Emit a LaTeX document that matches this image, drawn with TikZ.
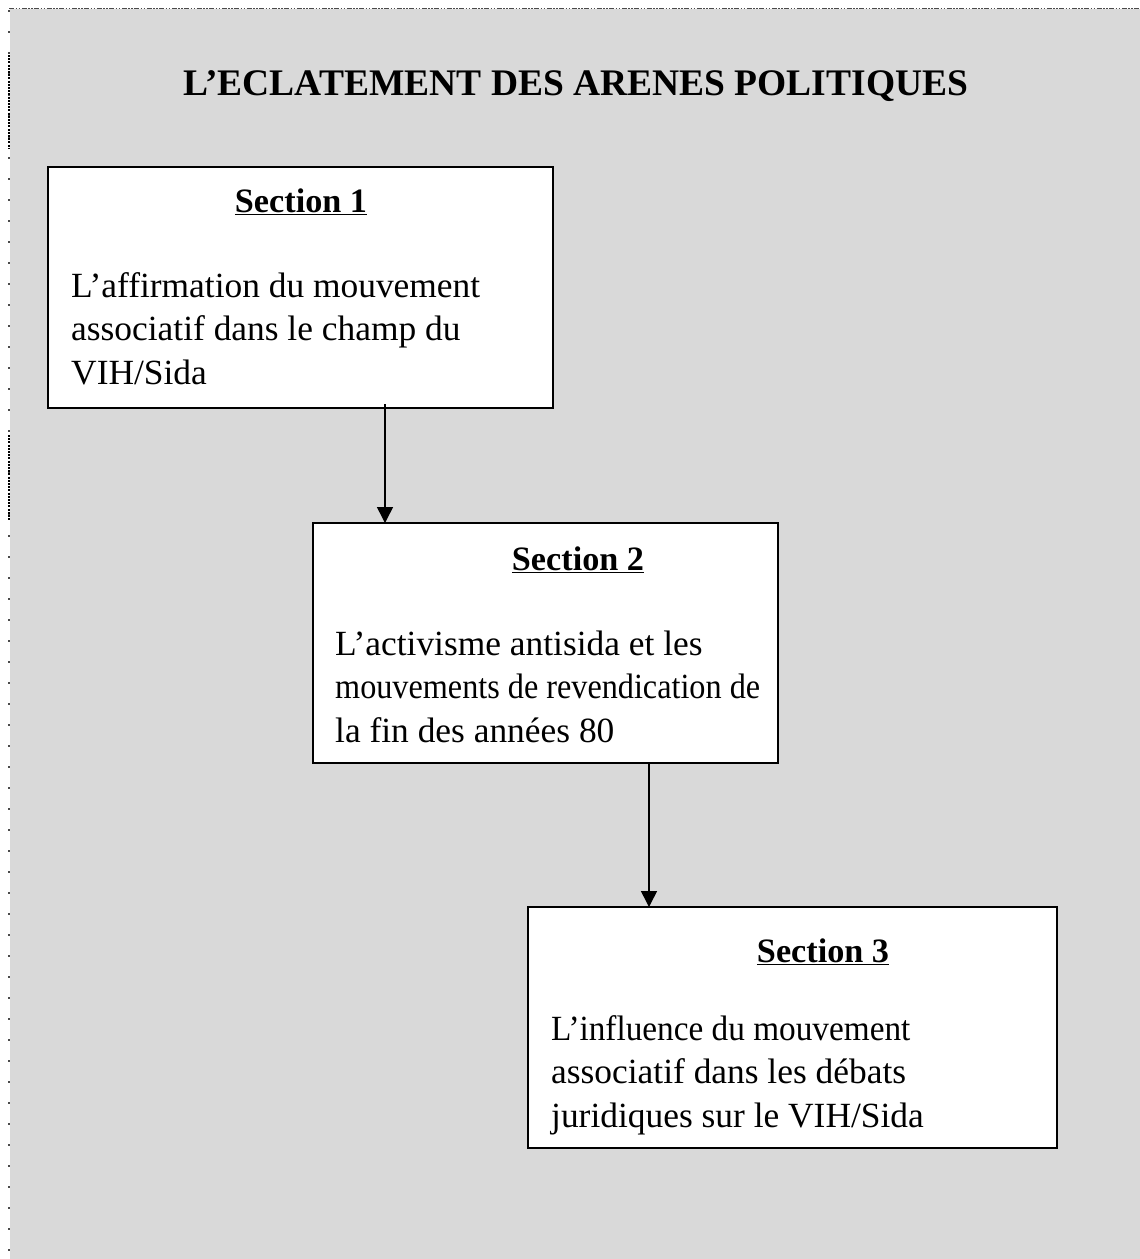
\documentclass[tikz,border=0pt]{standalone}
\usepackage{fontspec}
\setmainfont{Liberation Serif}
\usetikzlibrary{arrows.meta}
\definecolor{bggray}{HTML}{D9D9D9}
\definecolor{rimgray}{HTML}{4A4A4A}
\begin{document}
\begin{tikzpicture}[x=1pt,y=-1pt,
  box/.style={draw=black, line width=1.5pt, fill=white, inner sep=0pt, outer sep=0pt},
  head/.style={anchor=base, inner sep=0pt, font=\fontsize{34.2}{40}\selectfont\bfseries},
  txt/.style={anchor=base west, inner sep=0pt, font=\fontsize{35.4}{44}\selectfont},
  ttl/.style={anchor=base, inner sep=0pt, font=\fontsize{37.5}{44}\selectfont\bfseries},
  arr/.style={line width=1.5pt, -{Triangle[length=16pt,width=16pt]}},
  rimtop/.style={draw=rimgray, line width=1.2pt, dash pattern=on 5pt off 1.5pt on 1.5pt off 1.5pt on 1.5pt off 1.5pt},
  rimleft/.style={draw=rimgray, line width=1.8pt, dash pattern=on 2pt off 19pt},
  rimdense/.style={draw=black, line width=2.5pt, dash pattern=on 2pt off 1.2pt}
]
\useasboundingbox (0,0) rectangle (1140,1259);
\fill[white] (0,0) rectangle (1140,1259);
\fill[bggray] (10,9) rectangle (1140,1259);
\draw[rimtop] (9,8.5) -- (1140,8.5);
\draw[rimleft] (9,10) -- (9,1259);
\draw[rimdense] (9,55) -- (9,148);
\draw[rimdense] (9,435) -- (9,520);

\node[ttl] (title) at (576,95) {L’ECLATEMENT DES ARENES POLITIQUES};

% boxes
\node[box, minimum width=505pt, minimum height=241pt] (box1) at (300.5,287.5) {};
\node[box, minimum width=465pt, minimum height=240pt] (box2) at (545.5,643) {};
\node[box, minimum width=529pt, minimum height=241pt] (box3) at (792.5,1027.5) {};

% box 1 text
\node[head] (h1) at (301,212) {\underline{Section 1}};
\node[txt] (t1a) at (71,297) {L’affirmation du mouvement};
\node[txt] (t1b) at (71,340.5) {associatif dans le champ du};
\node[txt] (t1c) at (71,384) {VIH/Sida};

% box 2 text
\node[head] (h2) at (578,570) {\underline{Section 2}};
\node[txt] (t2a) at (335,655) {L’activisme antisida et les};
\node[txt] (t2b) at (335,698.5) {\scalebox{0.91}[1]{mouvements de revendication de}};
\node[txt] (t2c) at (335,742) {la fin des années 80};

% box 3 text
\node[head] (h3) at (823,962) {\underline{Section 3}};
\node[txt] (t3a) at (551,1040) {\scalebox{0.94}[1]{L’influence du mouvement}};
\node[txt] (t3b) at (551,1083.5) {associatif dans les débats};
\node[txt] (t3c) at (551,1127) {juridiques sur le VIH/Sida};

% connectors
\coordinate (a1) at (385,0);
\coordinate (a2) at (649,0);
\draw[arr] (box1.south -| a1) ++(0,-4) -- (box2.north -| a1);
\draw[arr] (box2.south -| a2) -- (box3.north -| a2);
\end{tikzpicture}
\end{document}
